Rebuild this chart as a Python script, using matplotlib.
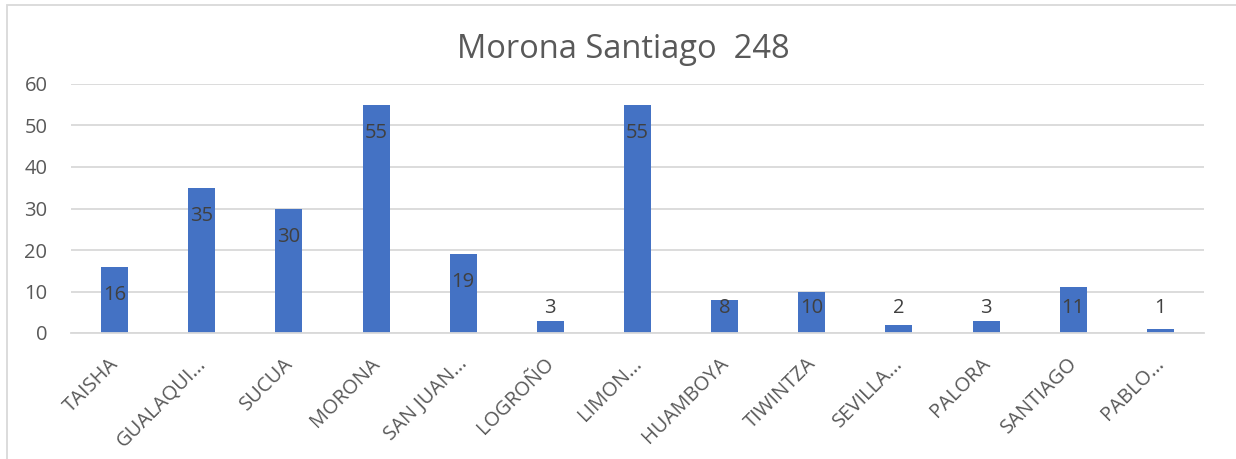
import matplotlib
matplotlib.use("Agg")
import matplotlib.pyplot as plt
import matplotlib.transforms as mtransforms
from matplotlib.patches import Rectangle

categories = ["TAISHA", "GUALAQUI...", "SUCUA", "MORONA", "SAN JUAN...", "LOGROÑO",
              "LIMON...", "HUAMBOYA", "TIWINTZA", "SEVILLA...", "PALORA", "SANTIAGO", "PABLO..."]
values = [16, 35, 30, 55, 19, 3, 55, 8, 10, 2, 3, 11, 1]
yticks = [0, 10, 20, 30, 40, 50, 60]
title = "Morona Santiago  248"

plt.rcParams['font.family'] = ['Open Sans', 'DejaVu Sans']
W, H, DPI = 1236, 459, 100
fig = plt.figure(figsize=(W / DPI, H / DPI), dpi=DPI)
fig.patch.set_facecolor("white")

# outer chart border
fig.add_artist(Rectangle((7 / W, -0.1), 1.2, 1 - 5 / H + 0.1, transform=fig.transFigure,
                         fill=False, edgecolor="#D9D9D9", linewidth=1.3))

ax = fig.add_axes([71 / W, 1 - 333 / H, (1204 - 71) / W, (333 - 84) / H])
x = list(range(len(categories)))
ax.bar(x, values, width=0.31, color="#4472C4", zorder=3)
ax.set_xlim(-0.5, len(categories) - 0.5)
ax.set_ylim(0, 60)
ax.set_yticks(yticks)
ax.set_xticks(x)
ax.set_xticklabels(categories, rotation=45, ha="right", va="top", rotation_mode="anchor",
                   fontsize=14.5, color="#595959")
ax.tick_params(axis="x", length=0, pad=15)
offset = mtransforms.ScaledTranslation(-6 / DPI, 0, fig.dpi_scale_trans)
for lbl in ax.get_xticklabels():
    lbl.set_transform(lbl.get_transform() + offset)
ax.tick_params(axis="y", length=0, pad=17, labelsize=14.5, labelcolor="#595959")
ax.grid(axis="y", color="#D9D9D9", linewidth=1.3, zorder=0)
for s in ["top", "right", "left"]:
    ax.spines[s].set_visible(False)
ax.spines["bottom"].set_color("#D9D9D9")
ax.spines["bottom"].set_linewidth(1.3)
ax.spines["bottom"].set_zorder(4)

for xi, v in zip(x, values):
    yl = max(v - 6.75, 6.1)
    ax.text(xi, yl, str(v), ha="center", va="center", fontsize=14.5, color="#404040", zorder=5)

fig.text(623 / W, 1 - 50 / H, title, ha="center", va="center", fontsize=23.5, color="#595959")

fig.savefig("out.png", dpi=DPI)
